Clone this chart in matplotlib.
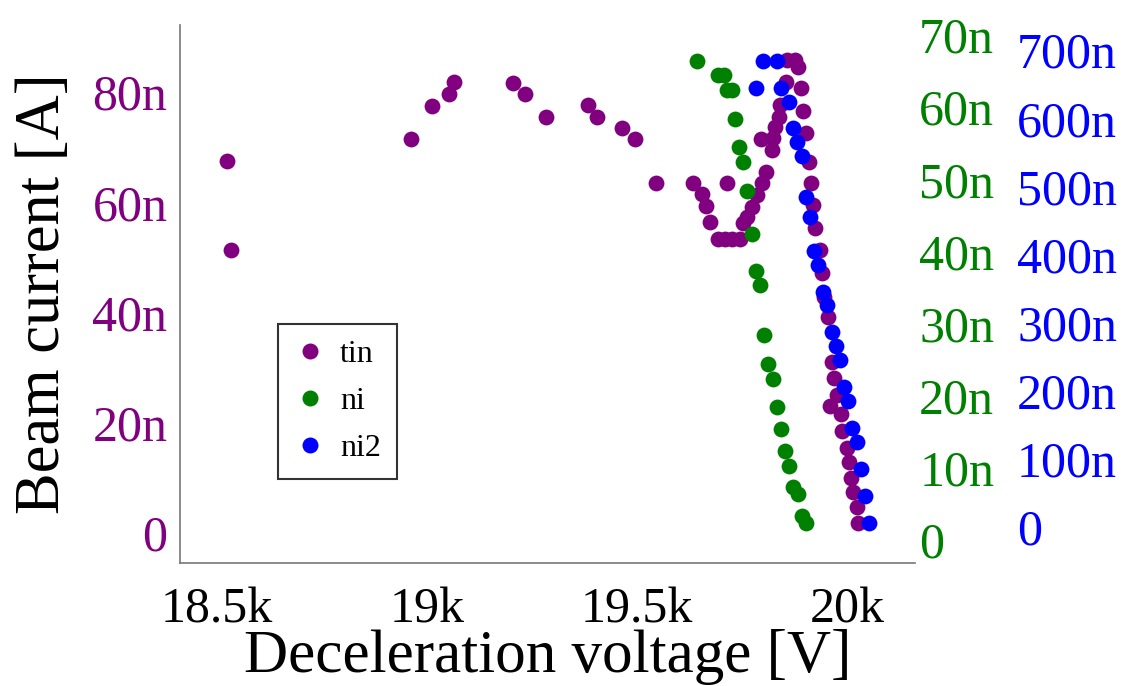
import matplotlib
matplotlib.use('Agg')
import matplotlib.pyplot as plt
from matplotlib.lines import Line2D

plt.rcParams['font.family'] = ['Liberation Serif', 'DejaVu Serif']

# deceleration voltage [V] and beam current [nA]
tin_voltage = [18525, 18534, 18963, 19013, 19053, 19065, 19205, 19234, 19284, 19384,
               19405, 19465, 19496, 19546, 19634, 19655, 19664, 19674, 19693, 19710,
               19726, 19745, 19714, 19752, 19762, 19774, 19786, 19798, 19807, 19795,
               19821, 19824, 19829, 19838, 19840, 19855, 19857, 19876, 19883, 19890,
               19895, 19902, 19909, 19914, 19919, 19924, 19936, 19940, 19945, 19955,
               19964, 19969, 19976, 19959, 19986, 19988, 20000, 20005, 20010, 20014,
               20024, 20026]
tin_current = [67.5, 51.3, 71.5, 77.5, 79.6, 81.8, 81.6, 79.6, 75.5, 77.6,
               75.5, 73.5, 71.5, 63.5, 63.5, 61.5, 59.3, 56.4, 53.3, 53.3,
               53.3, 53.3, 63.5, 56.2, 57.3, 59.1, 61.3, 63.5, 65.5, 71.5,
               69.5, 71.7, 73.6, 75.5, 77.6, 81.8, 85.8, 85.8, 84.5, 80.7,
               76.6, 72.6, 67.3, 63.5, 59.5, 55.3, 51.3, 47.2, 42.8, 39.2,
               31.0, 28.1, 25.0, 23.0, 21.6, 18.5, 15.4, 12.9, 10.0, 7.4,
               4.7, 1.8]

ni_voltage = [19643, 19693, 19707, 19714, 19726, 19733, 19743, 19752, 19762, 19774,
              19783, 19793, 19802, 19812, 19824, 19833, 19843, 19852, 19862, 19871,
              19883, 19893, 19902]
ni_current = [66.4, 64.5, 64.5, 62.4, 62.4, 58.4, 54.5, 52.4, 48.4, 42.4,
              37.3, 35.4, 28.4, 24.4, 22.3, 18.4, 15.4, 12.3, 10.3, 7.4,
              6.4, 3.3, 2.4]

ni2_voltage = [19800, 19833, 19783, 19843, 19862, 19871, 19881, 19893, 19902, 19912,
               19921, 19931, 19943, 19952, 19964, 19974, 19983, 19993, 20002, 20012,
               20024, 20033, 20043, 20052]
ni2_current = [684, 684, 644, 644, 624, 586, 565, 545, 484, 455,
               405, 385, 345, 326, 286, 266, 245, 206, 185, 145,
               125, 85, 46, 6]

x_ticks = [18500, 19000, 19500, 20000]
x_labels = ['18.5k', '19k', '19.5k', '20k']
tin_ticks = [0, 20, 40, 60, 80]
tin_labels = ['0', '20n', '40n', '60n', '80n']
ni_ticks = [0, 10, 20, 30, 40, 50, 60, 70]
ni_labels = ['0', '10n', '20n', '30n', '40n', '50n', '60n', '70n']
ni2_ticks = [0, 100, 200, 300, 400, 500, 600, 700]
ni2_labels = ['0', '100n', '200n', '300n', '400n', '500n', '600n', '700n']

c_tin, c_ni, c_ni2 = '#800080', '#008000', '#0000ff'
ms = 130

fig = plt.figure(figsize=(11.22, 6.86), dpi=100)
ax = fig.add_axes([0.1604, 0.1793, 0.6551, 0.7843])
ax2 = ax.twinx()
ax3 = ax.twinx()

ax.scatter(tin_voltage, tin_current, s=ms, color=c_tin, linewidths=0, zorder=3)
ax2.scatter(ni_voltage, ni_current, s=ms, color=c_ni, linewidths=0, zorder=3)
ax3.scatter(ni2_voltage, ni2_current, s=ms, color=c_ni2, linewidths=0, zorder=3)

ax.set_xlim(18413, 20161)
ax.set_ylim(-5.44, 92.2)
ax2.set_ylim(-3.19, 71.4)
ax3.set_ylim(-52.9, 737)

ax.set_xticks(x_ticks, x_labels)
ax.set_yticks(tin_ticks, tin_labels)
ax2.set_yticks(ni_ticks, ni_labels)
ax3.set_yticks(ni2_ticks, ni2_labels)

for s in ['top', 'right']:
    ax.spines[s].set_visible(False)
for s in ['left', 'bottom']:
    ax.spines[s].set_color('#777777')
    ax.spines[s].set_linewidth(1.2)
for a in (ax2, ax3):
    for s in a.spines.values():
        s.set_visible(False)
ax3.spines['right'].set_position(('outward', 70.5))

ax.tick_params(axis='x', length=0, pad=17, labelsize=36, labelcolor='black')
ax.tick_params(axis='y', length=0, pad=9, labelsize=36, labelcolor=c_tin)
ax2.tick_params(axis='y', length=0, pad=3, labelsize=36, labelcolor=c_ni)
ax3.tick_params(axis='y', length=0, pad=3, labelsize=36, labelcolor=c_ni2)

ax.set_xlabel('Deceleration voltage [V]', fontsize=44)
ax.set_ylabel('Beam current [A]', fontsize=45)
ax.xaxis.set_label_coords(0.5, -0.122)
ax.yaxis.set_label_coords(-0.145, 0.5)

handles = [Line2D([], [], marker='o', linestyle='', markersize=11.5, color=c, markeredgewidth=0)
           for c in (c_tin, c_ni, c_ni2)]
leg = ax3.legend(handles, ['tin', 'ni', 'ni2'], loc='lower left',
                 bbox_to_anchor=(0.133, 0.156), bbox_transform=ax.transAxes,
                 borderaxespad=0, fontsize=23, frameon=True, fancybox=False,
                 edgecolor='black', borderpad=0.5, handlelength=1.0,
                 handletextpad=0.45, labelspacing=0.55)
leg.get_frame().set_linewidth(1.5)

fig.savefig('out.png', dpi=100)
